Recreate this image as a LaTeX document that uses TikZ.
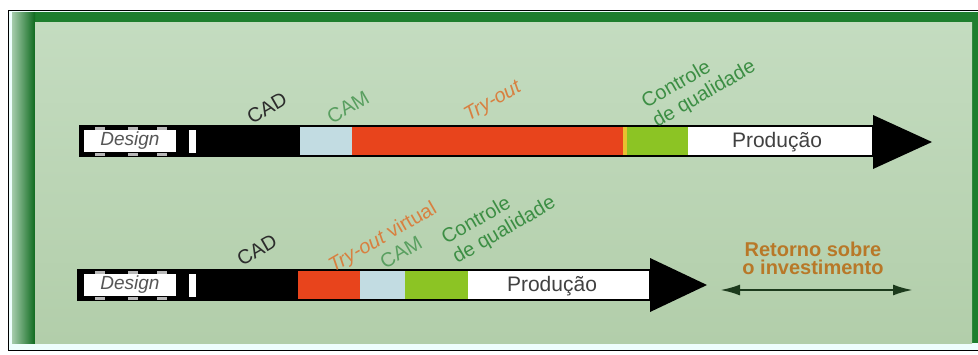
\documentclass[tikz,border=0pt]{standalone}
\usepackage{fontspec}
\setmainfont{Liberation Sans}
\usetikzlibrary{arrows.meta}
\definecolor{bgreen}{HTML}{1E7E2E}
\definecolor{bgreendk}{HTML}{0E6A1E}
\definecolor{bgtop}{HTML}{C4DCC0}
\definecolor{bgmid}{HTML}{F4F8F2}
\definecolor{bgbot}{HTML}{B2CEAA}
\definecolor{segred}{HTML}{E8441C}
\definecolor{segblue}{HTML}{C2DCE2}
\definecolor{seggreen}{HTML}{8CC424}
\definecolor{segyellow}{HTML}{E8C030}
\definecolor{lblgreen}{HTML}{3C8E44}
\definecolor{lblorange}{HTML}{D88040}
\definecolor{lblbrown}{HTML}{B87828}
\definecolor{lbldark}{HTML}{2C2C2C}
\definecolor{perf}{HTML}{B8B8B8}
\definecolor{arrowdk}{HTML}{1C3A1C}
\begin{document}
\begin{tikzpicture}[x=1pt,y=-1pt,
  seg/.style={inner sep=0pt, outer sep=0pt, anchor=north west, minimum height=30pt},
  designbox/.style={fill=white, inner sep=0pt, minimum width=92pt, minimum height=22pt, text=lbldark!80, font=\fontsize{19}{20}\selectfont\itshape},
  gapbar/.style={fill=white, inner sep=0pt, minimum width=7pt, minimum height=23pt},
  perfbox/.style={fill=perf, inner sep=0pt, minimum width=10pt, minimum height=3pt},
  lbl/.style={font=\fontsize{20}{22}\selectfont, rotate=30, inner sep=0pt, align=left},
  prod/.style={font=\fontsize{21}{21}\selectfont, text=lbldark!90, inner sep=0pt},
  outline/.style={draw=black, line width=2.2pt},
  head/.style={fill=black}
]
\useasboundingbox (0,0) rectangle (978,354);
\fill[white] (0,0) rectangle (978,354);
% frame
\fill[bgmid!70!cyan!20] (9,11) rectangle (978,350);
\draw[line width=1.3pt] (978,10.5) -- (8.5,10.5) -- (8.5,350.5) -- (978,350.5);
\fill[bgreen] (12,12) rectangle (978,343);
\shade[left color=bgreen!40!white, right color=bgreendk] (12,12) rectangle (35,343);
\shade[top color=bgtop, middle color=bgmid, bottom color=bgbot] (35,22) rectangle (972,343);

% ---------------- top bar ----------------
\node[seg, fill=black, minimum width=220pt] (blk1) at (80,126) {};
\node[seg, fill=segblue, minimum width=52pt] (cam1) at (300,126) {};
\node[seg, fill=segred, minimum width=271pt] (try1) at (352,126) {};
\node[seg, fill=segyellow, minimum width=4pt] (yel1) at (623,126) {};
\node[seg, fill=seggreen, minimum width=61pt] (qc1) at (627,126) {};
\node[seg, fill=white, minimum width=185pt] (pr1) at (688,126) {};
\draw[outline] (80,126) rectangle (873,156);
\node[designbox] (des1) at (130,141) {Design};
\node[gapbar] (gap1) at (192,141) {};
\node[perfbox] (p1a) at (100,128) {};
\node[perfbox] (p1b) at (133,128) {};
\node[perfbox] (p1c) at (162,128) {};
\node[perfbox] (p1d) at (100,154) {};
\node[perfbox] (p1e) at (133,154) {};
\node[perfbox] (p1f) at (162,154) {};
\fill[head] (873,115) -- (932,142) -- (873,169) -- cycle;
\node[prod] (prodt1) at (777,142) {Produção};

\node[lbl, text=lbldark] (cadl1) at (267,108) {CAD};
\node[lbl, text=lblgreen!85!white] (caml1) at (348,107) {CAM};
\node[lbl, text=lblorange, font=\fontsize{20}{22}\selectfont\itshape] (tryl1) at (493,102) {Try-out};
\node[lbl, text=lblgreen] (qcl1) at (699,85) {Controle\\de qualidade};

% ---------------- bottom bar ----------------
\node[seg, fill=black, minimum width=220pt] (blk2) at (78,270) {};
\node[seg, fill=segred, minimum width=62pt] (try2) at (298,270) {};
\node[seg, fill=segblue, minimum width=45pt] (cam2) at (360,270) {};
\node[seg, fill=seggreen, minimum width=63pt] (qc2) at (405,270) {};
\node[seg, fill=white, minimum width=182pt] (pr2) at (468,270) {};
\draw[outline] (78,270) rectangle (650,300);
\node[designbox] (des2) at (130,285) {Design};
\node[gapbar] (gap2) at (192,285) {};
\node[perfbox] (p2a) at (100,272) {};
\node[perfbox] (p2b) at (133,272) {};
\node[perfbox] (p2c) at (162,272) {};
\node[perfbox] (p2d) at (100,298) {};
\node[perfbox] (p2e) at (133,298) {};
\node[perfbox] (p2f) at (162,298) {};
\fill[head] (650,258) -- (707,285) -- (650,312) -- cycle;
\node[prod] (prodt2) at (552,286) {Produção};

\node[lbl, text=lbldark] (cadl2) at (257,250) {CAD};
\node[lbl, text=lblorange] (tryl2) at (383,238) {\itshape Try-out\upshape{} virtual};
\node[lbl, text=lblgreen!85!white] (caml2) at (401,252) {CAM};
\node[lbl, text=lblgreen] (qcl2) at (499,221) {Controle\\de qualidade};

% return on investment
\node[font=\fontsize{20}{18}\selectfont\bfseries, text=lblbrown, align=center, inner sep=0pt] (ret) at (813,258) {Retorno sobre\\o investimento};
\coordinate (r1) at (720,290);
\coordinate (r2) at (913,290);
\draw[line width=2.4pt, draw=arrowdk, {Latex[length=20pt,width=11pt]}-{Latex[length=20pt,width=11pt]}] (r1) -- (r2);
\end{tikzpicture}
\end{document}
